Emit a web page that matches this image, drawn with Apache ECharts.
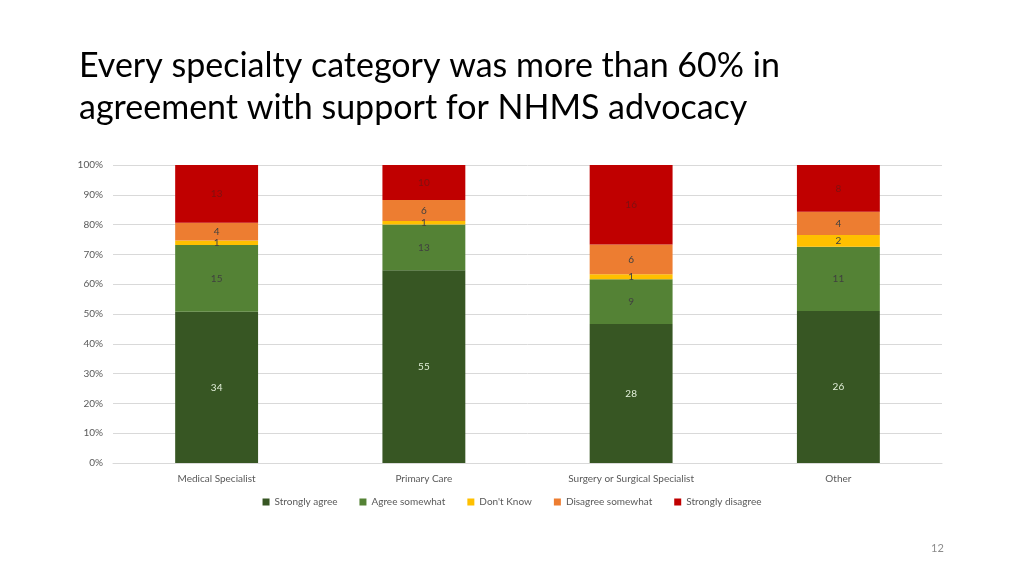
<!DOCTYPE html>
<html>
<head>
<meta charset="utf-8">
<script src="https://cdn.jsdelivr.net/npm/echarts@6/dist/echarts.min.js"></script>
<style>
  html, body { margin: 0; padding: 0; background: #fff; }
  #chart { width: 1024px; height: 576px; }
</style>
</head>
<body>
<div id="chart"></div>
<script>
// survey counts per specialty
const categories = ['Medical Specialist', 'Primary Care', 'Surgery or Surgical Specialist', 'Other'];
const stronglyAgree = [34, 55, 28, 26];
const agreeSomewhat = [15, 13, 9, 11];
const dontKnow = [1, 1, 1, 2];
const disagreeSomewhat = [4, 6, 6, 4];
const stronglyDisagree = [13, 10, 16, 8];

const seriesNames = ['Strongly agree', 'Agree somewhat', "Don't Know", 'Disagree somewhat', 'Strongly disagree'];
const seriesCounts = [stronglyAgree, agreeSomewhat, dontKnow, disagreeSomewhat, stronglyDisagree];
const colors = ['#375623', '#548235', '#ffc000', '#ed7d31', '#c00000'];
const labelColors = ['#e2efd9', '#404040', '#404040', '#404040', '#7f1010'];

// totals for 100% stacking
const totals = categories.map((_, i) => seriesCounts.reduce((s, arr) => s + arr[i], 0));

const chart = echarts.init(document.getElementById('chart'));
const option = {
  animation: false,
  title: {
    text: 'Every specialty category was more than 60% in\nagreement with support for NHMS advocacy',
    left: 74,
    top: 40,
    textStyle: {
      fontFamily: 'Lato',
      fontWeight: 'normal',
      fontSize: 34,
      lineHeight: 42,
      color: '#000'
    }
  },
  graphic: [{
    type: 'text',
    left: 931,
    top: 543,
    style: { text: '12', fontSize: 11, fill: '#8c8c8c', fontFamily: 'Lato' }
  }],
  color: colors,
  legend: {
    bottom: 64,
    left: 'center',
    itemWidth: 7,
    itemHeight: 7,
    itemGap: 22,
    icon: 'rect',
    textStyle: { fontSize: 10, color: '#595959', fontFamily: 'Lato' },
    data: seriesNames
  },
  grid: { left: 113, right: 82, top: 165, bottom: 113 },
  xAxis: {
    type: 'category',
    data: categories,
    axisTick: { show: false },
    axisLine: { lineStyle: { color: '#d9d9d9' } },
    axisLabel: { fontSize: 10, color: '#595959', margin: 11, fontFamily: 'Lato' }
  },
  yAxis: {
    type: 'value',
    min: 0,
    max: 1,
    interval: 0.1,
    axisLabel: {
      fontSize: 10,
      color: '#595959',
      margin: 10,
      fontFamily: 'Lato',
      formatter: v => Math.round(v * 100) + '%'
    },
    splitLine: { lineStyle: { color: '#d9d9d9' } }
  },
  series: seriesNames.map((name, k) => ({
    name: name,
    type: 'bar',
    stack: 'total',
    barWidth: '40%',
    itemStyle: { color: colors[k] },
    label: {
      show: true,
      fontSize: 10,
      color: labelColors[k],
      fontFamily: 'Lato',
      formatter: p => seriesCounts[k][p.dataIndex]
    },
    data: seriesCounts[k].map((v, i) => v / totals[i])
  }))
};
chart.setOption(option);
</script>
</body>
</html>
